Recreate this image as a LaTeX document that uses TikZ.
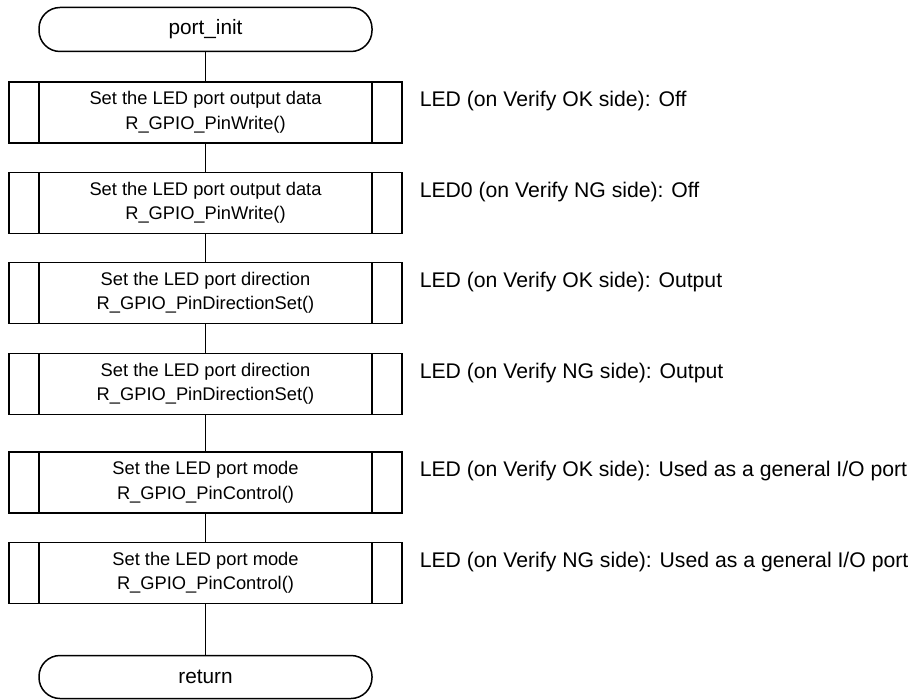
\documentclass[tikz,border=0pt]{standalone}
\usepackage{fontspec}
\setmainfont{Liberation Sans}
\begin{document}
\begin{tikzpicture}[x=1pt,y=-1pt,
  line width=1.5pt,
  terminal/.style={draw, rectangle, rounded corners=21pt, minimum width=333pt,
    minimum height=44pt, inner sep=0pt, font=\fontsize{20.8}{24}\selectfont},
  procbox/.style={draw, rectangle, minimum width=393pt, minimum height=61pt,
    inner sep=0pt, align=center, font=\fontsize{18.3}{24.5}\selectfont,
    path picture={
      \draw[line width=1.5pt] ([xshift=30pt]path picture bounding box.north west)
        -- ([xshift=30pt]path picture bounding box.south west);
      \draw[line width=1.5pt] ([xshift=-30pt]path picture bounding box.north east)
        -- ([xshift=-30pt]path picture bounding box.south east);}},
  note/.style={anchor=west, inner sep=0pt, font=\fontsize{21.2}{24}\selectfont}]
\useasboundingbox[fill=white] (0,0) rectangle (912,700);

\node[terminal] (start) at (205.5,29.5) {port\_init};
\node[procbox] (p1) at (205.5,112.5) {Set the LED port output data\\R\_GPIO\_PinWrite()};
\node[procbox] (p2) at (205.5,203) {Set the LED port output data\\R\_GPIO\_PinWrite()};
\node[procbox] (p3) at (205.5,293) {Set the LED port direction\\R\_GPIO\_PinDirectionSet()};
\node[procbox] (p4) at (205.5,384) {Set the LED port direction\\R\_GPIO\_PinDirectionSet()};
\node[procbox] (p5) at (205.5,482.5) {Set the LED port mode\\R\_GPIO\_PinControl()};
\node[procbox] (p6) at (205.5,573) {Set the LED port mode\\R\_GPIO\_PinControl()};
\node[terminal, minimum height=43pt] (stop) at (205.5,677) {return};

\draw (start) -- (p1);
\draw (p1) -- (p2);
\draw (p2) -- (p3);
\draw (p3) -- (p4);
\draw (p4) -- (p5);
\draw (p5) -- (p6);
\draw (p6) -- (stop);

\node[note] (n1) at (419,101) {LED (on Verify OK side): Off};
\node[note] (n2) at (419,192) {LED0 (on Verify NG side): Off};
\node[note] (n3) at (419,282) {LED (on Verify OK side): Output};
\node[note] (n4) at (419,373) {LED (on Verify NG side): Output};
\node[note] (n5) at (419,471) {LED (on Verify OK side): Used as a general I/O port};
\node[note] (n6) at (419,562) {LED (on Verify NG side): Used as a general I/O port};
\end{tikzpicture}
\end{document}
